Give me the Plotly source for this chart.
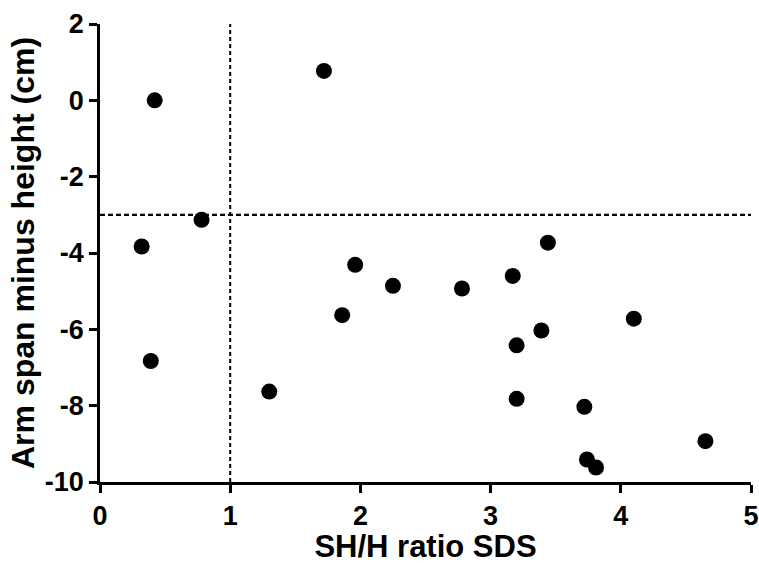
import plotly.graph_objects as go

sh_h_sds = [0.42, 1.72, 0.78, 0.32, 1.96, 3.44, 3.17, 0.39, 1.30, 1.86,
            2.25, 2.78, 4.10, 3.39, 3.20, 3.20, 3.72, 4.65, 3.74, 3.81]
arm_minus_height = [0.0, 0.77, -3.13, -3.83, -4.31, -3.73, -4.60, -6.83, -7.63, -5.63,
                    -4.86, -4.93, -5.72, -6.03, -6.42, -7.82, -8.03, -8.93, -9.41, -9.62]

x_ticks = [0, 1, 2, 3, 4, 5]
x_tick_labels = ["0", "1", "2", "3", "4", "5"]
y_ticks = [2, 0, -2, -4, -6, -8, -10]
y_tick_labels = ["2", "0", "-2", "-4", "-6", "-8", "-10"]
x_cut = 1
y_cut = -3

fig = go.Figure()
fig.add_trace(go.Scatter(
    x=sh_h_sds, y=arm_minus_height, mode="markers",
    marker=dict(size=16, color="black"), showlegend=False, cliponaxis=False,
))

fig.add_shape(type="line", x0=x_cut, x1=x_cut, y0=-10, y1=2, xref="x", yref="y",
              line=dict(color="black", width=2, dash="4px,3px"))
fig.add_shape(type="line", x0=0, x1=5, y0=y_cut, y1=y_cut, xref="x", yref="y",
              line=dict(color="black", width=2.2, dash="5px,3px"))

font_family = "Liberation Sans, Arial, sans-serif"
fig.update_layout(
    width=759, height=564,
    margin=dict(l=100, r=8, t=24, b=82, autoexpand=False),
    plot_bgcolor="white", paper_bgcolor="white",
    font=dict(family=font_family, color="black"),
)
fig.update_xaxes(
    range=[0, 5], tickvals=x_ticks, ticktext=x_tick_labels, showgrid=False, zeroline=False,
    showline=True, linecolor="black", linewidth=2.5,
    ticks="outside", ticklen=8, tickwidth=2.5, tickcolor="black",
    tickfont=dict(size=27, family=font_family, weight="bold"),
    title=dict(text="<b>SH/H ratio SDS</b>", font=dict(size=31), standoff=3),
)
fig.update_yaxes(
    range=[-10, 2], tickvals=y_ticks, ticktext=y_tick_labels, showgrid=False, zeroline=False,
    showline=True, linecolor="black", linewidth=2.5,
    ticks="outside", ticklen=8, tickwidth=2.5, tickcolor="black",
    tickfont=dict(size=27, family=font_family, weight="bold"),
    title=dict(text="<b>Arm span minus height (cm)</b>", font=dict(size=32), standoff=1),
)

fig.write_html("out.html", config={"displayModeBar": False},
               post_script="document.body.style.margin='0';")
